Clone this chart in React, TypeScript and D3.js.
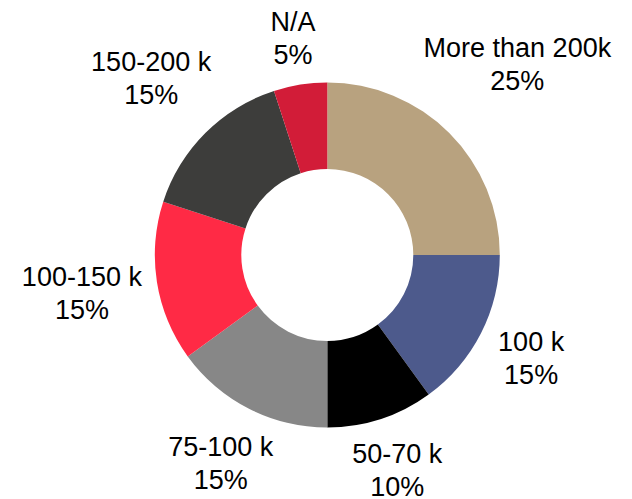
import React, { useMemo } from "react";
import * as d3 from "d3";

const categories = ["More than 200k", "100 k", "50-70 k", "75-100 k", "100-150 k", "150-200 k", "N/A"];
const values = [25, 15, 10, 15, 15, 15, 5];
const percentLabels = ["25%", "15%", "10%", "15%", "15%", "15%", "5%"];
const colors = ["#B8A27F", "#4D5A8C", "#000000", "#878787", "#FF2A45", "#3D3D3B", "#D21C38"];

const W = 632;
const H = 499;
const CX = 327.3;
const CY = 255;
const R_OUT = 172.5;
const R_IN = 86;
const FONT_SIZE = 27;
const LINE_GAP = 33;
const FONT = "'Liberation Sans', Arial, Helvetica, sans-serif";
const LABEL_GAP = 13;

function measure(text: string): number {
  const c = document.createElement("canvas");
  const ctx = c.getContext("2d");
  if (!ctx) return text.length * FONT_SIZE * 0.55;
  ctx.font = `${FONT_SIZE}px ${FONT}`;
  return ctx.measureText(text).width;
}

export default function App() {
  const pie = d3.pie<number>().value((d) => d).sort(null);
  const arcs = pie(values);
  const arcGen = d3.arc<d3.PieArcDatum<number>>().innerRadius(R_IN).outerRadius(R_OUT);

  const labels = useMemo(() => {
    return arcs.map((a, i) => {
      const mid = (a.startAngle + a.endAngle) / 2;
      const ux = Math.sin(mid);
      const uy = -Math.cos(mid);
      const w = Math.max(measure(categories[i]), measure(percentLabels[i]));
      const hw = w / 2;
      const hh = 31.5;
      const target = R_OUT + LABEL_GAP;
      const nearest = (d: number) => {
        const cx = d * ux;
        const cy = d * uy;
        const dx = Math.max(Math.abs(cx) - hw, 0);
        const dy = Math.max(Math.abs(cy) - hh, 0);
        return Math.sqrt(dx * dx + dy * dy);
      };
      let lo = 0;
      let hi = 600;
      for (let k = 0; k < 60; k++) {
        const m = (lo + hi) / 2;
        if (nearest(m) < target) lo = m;
        else hi = m;
      }
      const d = (lo + hi) / 2;
      return { x: d * ux, y: d * uy };
    });
  }, []);

  return (
    <svg
      width={W}
      height={H}
      style={{ position: "absolute", left: 0, top: 0, background: "#fff" }}
      fontFamily={FONT}
    >
      <g transform={`translate(${CX},${CY})`}>
        {arcs.map((a, i) => (
          <path key={categories[i]} d={arcGen(a) || ""} fill={colors[i]} />
        ))}
        {labels.map((p, i) => (
          <text key={"l" + i} textAnchor="middle" fontSize={FONT_SIZE} fill="#000">
            <tspan x={p.x} y={p.y - 7.5}>{categories[i]}</tspan>
            <tspan x={p.x} y={p.y - 7.5 + LINE_GAP}>{percentLabels[i]}</tspan>
          </text>
        ))}
      </g>
    </svg>
  );
}
